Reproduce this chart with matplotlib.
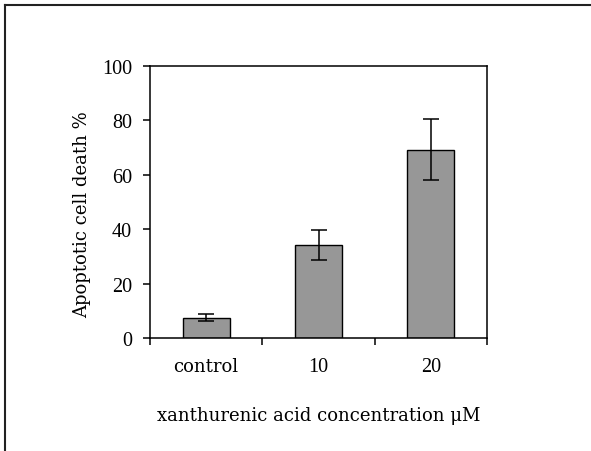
import matplotlib
matplotlib.use("Agg")
import matplotlib.pyplot as plt
from matplotlib.lines import Line2D
import numpy as np

categories = ["control", "10", "20"]
values = [7.5, 34.2, 69.2]
errors = [1.2, 5.5, 11.2]
yticks = [0, 20, 40, 60, 80, 100]

num_font = dict(family=['Liberation Serif', 'DejaVu Serif'], size=14.5)
word_font = dict(family=['DejaVu Serif'], size=13)

fig = plt.figure(figsize=(5.91, 4.52), dpi=100)
ax = fig.add_axes([150/591, 1-339/452, (487-150)/591, (339-67)/452])

x = np.arange(len(categories))
ax.bar(x, values, width=0.42, color="#979797", edgecolor="black", linewidth=1.0, zorder=2)
ax.errorbar(x, values, yerr=errors, fmt="none", ecolor="black", elinewidth=1.1,
            capsize=5.5, capthick=1.1, zorder=3)

ax.set_xlim(-0.5, len(categories) - 0.5)
ax.set_ylim(0, 100)
ax.set_yticks(yticks)
ax.set_yticklabels([str(v) for v in yticks], **num_font)
ax.set_xticks(x)
xl = ax.set_xticklabels(categories)
for t, c in zip(xl, categories):
    if c.isdigit():
        t.set_fontfamily(num_font['family']); t.set_fontsize(num_font['size'])
    else:
        t.set_fontfamily(word_font['family']); t.set_fontsize(word_font['size'])
ax.set_xticks(np.arange(len(categories) + 1) - 0.5, minor=True)
ax.tick_params(axis="x", which="major", length=0, pad=14)
ax.tick_params(axis="x", which="minor", length=5, width=1.1, direction="out")
ax.tick_params(axis="y", length=5, width=1.1, direction="out", pad=8)
for s in ax.spines.values():
    s.set_linewidth(1.1)

ax.set_ylabel("Apoptotic cell death %", labelpad=8, **word_font)
ax.yaxis.label.set_y(0.5 - 12/272)
ax.set_xlabel("xanthurenic acid concentration \u03bcM", labelpad=21, **word_font)

# figure border (top and left visible)
fig.add_artist(Line2D([5/591, 5/591], [0, 1-6/452], transform=fig.transFigure, color="#222222", linewidth=1.5))
fig.add_artist(Line2D([5/591, 1], [1-6/452, 1-6/452], transform=fig.transFigure, color="#222222", linewidth=1.5))

fig.savefig("out.png", dpi=100)
